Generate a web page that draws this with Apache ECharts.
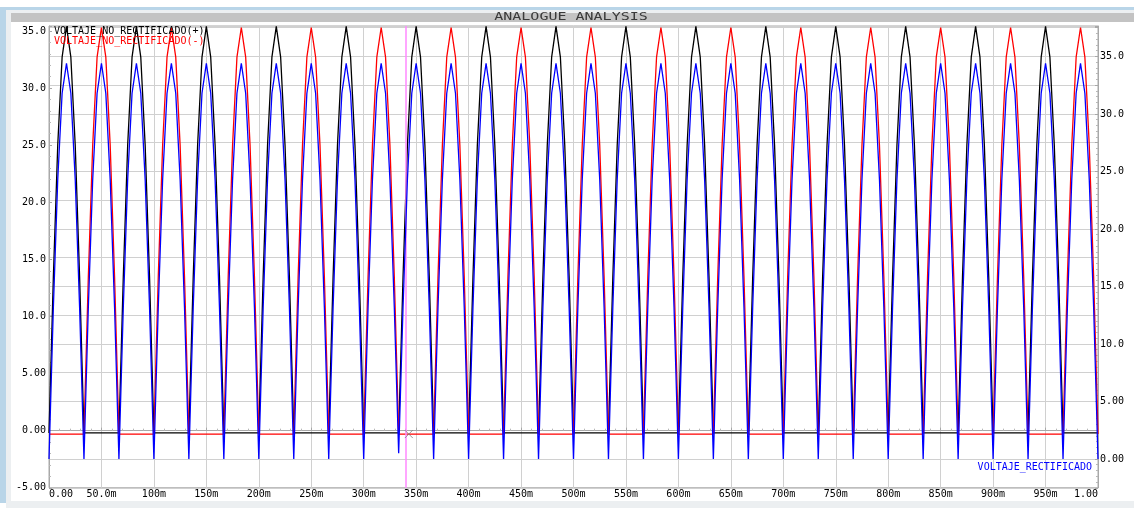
<!DOCTYPE html>
<html>
<head>
<meta charset="utf-8">
<title>ANALOGUE ANALYSIS</title>
<script src="https://cdn.jsdelivr.net/npm/echarts@6/dist/echarts.min.js"></script>
<style>
  html, body { margin: 0; padding: 0; background: #fff; }
  #chart { width: 1134px; height: 508px; }
</style>
</head>
<body>
<div id="chart"></div>
<script>
// simulator sample step (s); sample i is at t = i * SAMPLE_STEP
const SAMPLE_STEP = 1 / 240;

// VOLTAJE_NO_RECTIFICADO(+), left axis (V), one 66.7 ms period per row
const blackVolts = [
  -0.2, 13.5, 25.0, 32.7, 35.4, 32.7, 25.0, 13.5, -0.2, -0.2, -0.2, -0.2, -0.2, -0.2, -0.2, -0.2,
  -0.2, 13.5, 25.0, 32.7, 35.4, 32.7, 25.0, 13.5, -0.2, -0.2, -0.2, -0.2, -0.2, -0.2, -0.2, -0.2,
  -0.2, 13.5, 25.0, 32.7, 35.4, 32.7, 25.0, 13.5, -0.2, -0.2, -0.2, -0.2, -0.2, -0.2, -0.2, -0.2,
  -0.2, 13.5, 25.0, 32.7, 35.4, 32.7, 25.0, 13.5, -0.2, -0.2, -0.2, -0.2, -0.2, -0.2, -0.2, -0.2,
  -0.2, 13.5, 25.0, 32.7, 35.4, 32.7, 25.0, 13.5, -0.2, -0.2, -0.2, -0.2, -0.2, -0.2, -0.2, -0.2,
  -0.2, 13.5, 25.0, 32.7, 35.4, 32.7, 25.0, 13.5, -0.2, -0.2, -0.2, -0.2, -0.2, -0.2, -0.2, -0.2,
  -0.2, 13.5, 25.0, 32.7, 35.4, 32.7, 25.0, 13.5, -0.2, -0.2, -0.2, -0.2, -0.2, -0.2, -0.2, -0.2,
  -0.2, 13.5, 25.0, 32.7, 35.4, 32.7, 25.0, 13.5, -0.2, -0.2, -0.2, -0.2, -0.2, -0.2, -0.2, -0.2,
  -0.2, 13.5, 25.0, 32.7, 35.4, 32.7, 25.0, 13.5, -0.2, -0.2, -0.2, -0.2, -0.2, -0.2, -0.2, -0.2,
  -0.2, 13.5, 25.0, 32.7, 35.4, 32.7, 25.0, 13.5, -0.2, -0.2, -0.2, -0.2, -0.2, -0.2, -0.2, -0.2,
  -0.2, 13.5, 25.0, 32.7, 35.4, 32.7, 25.0, 13.5, -0.2, -0.2, -0.2, -0.2, -0.2, -0.2, -0.2, -0.2,
  -0.2, 13.5, 25.0, 32.7, 35.4, 32.7, 25.0, 13.5, -0.2, -0.2, -0.2, -0.2, -0.2, -0.2, -0.2, -0.2,
  -0.2, 13.5, 25.0, 32.7, 35.4, 32.7, 25.0, 13.5, -0.2, -0.2, -0.2, -0.2, -0.2, -0.2, -0.2, -0.2,
  -0.2, 13.5, 25.0, 32.7, 35.4, 32.7, 25.0, 13.5, -0.2, -0.2, -0.2, -0.2, -0.2, -0.2, -0.2, -0.2,
  -0.2, 13.5, 25.0, 32.7, 35.4, 32.7, 25.0, 13.5, -0.2, -0.2, -0.2, -0.2, -0.2, -0.2, -0.2, -0.2,
  -0.2
];

// VOLTAJE_NO_RECTIFICADO(-), left axis (V)
const redVolts = [
  -0.3, -0.3, -0.3, -0.3, -0.3, -0.3, -0.3, -0.3, -0.3, 13.5, 25.0, 32.7, 35.3, 32.7, 25.0, 13.5,
  -0.3, -0.3, -0.3, -0.3, -0.3, -0.3, -0.3, -0.3, -0.3, 13.5, 25.0, 32.7, 35.3, 32.7, 25.0, 13.5,
  -0.3, -0.3, -0.3, -0.3, -0.3, -0.3, -0.3, -0.3, -0.3, 13.5, 25.0, 32.7, 35.3, 32.7, 25.0, 13.5,
  -0.3, -0.3, -0.3, -0.3, -0.3, -0.3, -0.3, -0.3, -0.3, 13.5, 25.0, 32.7, 35.3, 32.7, 25.0, 13.5,
  -0.3, -0.3, -0.3, -0.3, -0.3, -0.3, -0.3, -0.3, -0.3, 13.5, 25.0, 32.7, 35.3, 32.7, 25.0, 13.5,
  -0.3, -0.3, -0.3, -0.3, -0.3, -0.3, -0.3, -0.3, -0.3, 13.5, 25.0, 32.7, 35.3, 32.7, 25.0, 13.5,
  -0.3, -0.3, -0.3, -0.3, -0.3, -0.3, -0.3, -0.3, -0.3, 13.5, 25.0, 32.7, 35.3, 32.7, 25.0, 13.5,
  -0.3, -0.3, -0.3, -0.3, -0.3, -0.3, -0.3, -0.3, -0.3, 13.5, 25.0, 32.7, 35.3, 32.7, 25.0, 13.5,
  -0.3, -0.3, -0.3, -0.3, -0.3, -0.3, -0.3, -0.3, -0.3, 13.5, 25.0, 32.7, 35.3, 32.7, 25.0, 13.5,
  -0.3, -0.3, -0.3, -0.3, -0.3, -0.3, -0.3, -0.3, -0.3, 13.5, 25.0, 32.7, 35.3, 32.7, 25.0, 13.5,
  -0.3, -0.3, -0.3, -0.3, -0.3, -0.3, -0.3, -0.3, -0.3, 13.5, 25.0, 32.7, 35.3, 32.7, 25.0, 13.5,
  -0.3, -0.3, -0.3, -0.3, -0.3, -0.3, -0.3, -0.3, -0.3, 13.5, 25.0, 32.7, 35.3, 32.7, 25.0, 13.5,
  -0.3, -0.3, -0.3, -0.3, -0.3, -0.3, -0.3, -0.3, -0.3, 13.5, 25.0, 32.7, 35.3, 32.7, 25.0, 13.5,
  -0.3, -0.3, -0.3, -0.3, -0.3, -0.3, -0.3, -0.3, -0.3, 13.5, 25.0, 32.7, 35.3, 32.7, 25.0, 13.5,
  -0.3, -0.3, -0.3, -0.3, -0.3, -0.3, -0.3, -0.3, -0.3, 13.5, 25.0, 32.7, 35.3, 32.7, 25.0, 13.5,
  -0.3
];

// VOLTAJE_RECTIFICADO, right axis (V)
const blueVolts = [
  0.0, 13.2, 24.3, 31.8, 34.4, 31.8, 24.3, 13.2, 0.0, 13.2, 24.3, 31.8, 34.4, 31.8, 24.3, 13.2,
  0.0, 13.2, 24.3, 31.8, 34.4, 31.8, 24.3, 13.2, 0.0, 13.2, 24.3, 31.8, 34.4, 31.8, 24.3, 13.2,
  0.0, 13.2, 24.3, 31.8, 34.4, 31.8, 24.3, 13.2, 0.0, 13.2, 24.3, 31.8, 34.4, 31.8, 24.3, 13.2,
  0.0, 13.2, 24.3, 31.8, 34.4, 31.8, 24.3, 13.2, 0.0, 13.2, 24.3, 31.8, 34.4, 31.8, 24.3, 13.2,
  0.0, 13.2, 24.3, 31.8, 34.4, 31.8, 24.3, 13.2, 0.0, 13.2, 24.3, 31.8, 34.4, 31.8, 24.3, 13.2,
  0.5, 13.2, 24.3, 31.8, 34.4, 31.8, 24.3, 13.2, 0.0, 13.2, 24.3, 31.8, 34.4, 31.8, 24.3, 13.2,
  0.0, 13.2, 24.3, 31.8, 34.4, 31.8, 24.3, 13.2, 0.0, 13.2, 24.3, 31.8, 34.4, 31.8, 24.3, 13.2,
  0.0, 13.2, 24.3, 31.8, 34.4, 31.8, 24.3, 13.2, 0.0, 13.2, 24.3, 31.8, 34.4, 31.8, 24.3, 13.2,
  0.0, 13.2, 24.3, 31.8, 34.4, 31.8, 24.3, 13.2, 0.0, 13.2, 24.3, 31.8, 34.4, 31.8, 24.3, 13.2,
  0.0, 13.2, 24.3, 31.8, 34.4, 31.8, 24.3, 13.2, 0.0, 13.2, 24.3, 31.8, 34.4, 31.8, 24.3, 13.2,
  0.0, 13.2, 24.3, 31.8, 34.4, 31.8, 24.3, 13.2, 0.0, 13.2, 24.3, 31.8, 34.4, 31.8, 24.3, 13.2,
  0.0, 13.2, 24.3, 31.8, 34.4, 31.8, 24.3, 13.2, 0.0, 13.2, 24.3, 31.8, 34.4, 31.8, 24.3, 13.2,
  0.0, 13.2, 24.3, 31.8, 34.4, 31.8, 24.3, 13.2, 0.0, 13.2, 24.3, 31.8, 34.4, 31.8, 24.3, 13.2,
  0.0, 13.2, 24.3, 31.8, 34.4, 31.8, 24.3, 13.2, 0.0, 13.2, 24.3, 31.8, 34.4, 31.8, 24.3, 13.2,
  0.0, 13.2, 24.3, 31.8, 34.4, 31.8, 24.3, 13.2, 0.0, 13.2, 24.3, 31.8, 34.4, 31.8, 24.3, 13.2,
  0.0
];

// cursor (s) and the marked point on the left axis
const cursorTime = 0.343;
const cursorPoint = [0.343, -0.3];

const traceNames = ['VOLTAJE_NO_RECTIFICADO(+)', 'VOLTAJE_NO_RECTIFICADO(-)', 'VOLTAJE_RECTIFICADO'];
const traceColors = ['#000000', '#ff0000', '#0000ff'];

const MONO = '"DejaVu Sans Mono", "Liberation Mono", monospace';

function toPairs(values) {
  return values.map((v, i) => [i * SAMPLE_STEP, v]);
}

function voltLabel(v) {
  if (Math.abs(v % 5) > 1e-6) return '';
  return Math.abs(v) >= 10 ? v.toFixed(1) : v.toFixed(2);
}

function timeLabel(v) {
  const ms = Math.round(v * 1000);
  if (ms === 0) return '0.00';
  if (ms === 1000) return '1.00';
  if (ms < 100) return ms.toFixed(1) + 'm';
  return ms + 'm';
}

const chart = echarts.init(document.getElementById('chart'));

const option = {
  animation: false,
  backgroundColor: '#ffffff',
  grid: {
    left: 49, right: 36, top: 26, bottom: 20.25,
    show: true, borderColor: '#a8a8a8', borderWidth: 1, backgroundColor: 'transparent'
  },
  xAxis: {
    type: 'value', min: 0, max: 1, interval: 0.05,
    axisLine: { show: true, lineStyle: { color: '#a8a8a8' } },
    axisTick: { show: true, inside: true, length: 3, lineStyle: { color: '#a8a8a8' } },
    minorTick: { show: true, splitNumber: 5, length: 2, lineStyle: { color: '#b8b8b8' } },
    splitLine: { show: true, lineStyle: { color: '#d0d0d0', width: 1 } },
    axisLabel: {
      formatter: timeLabel, color: '#000', fontFamily: MONO, fontSize: 10, margin: 2,
      alignMinLabel: 'left', alignMaxLabel: 'right', hideOverlap: false
    }
  },
  yAxis: [
    {
      type: 'value', position: 'left', min: -5, max: 35.43, interval: 5,
      axisLine: { show: true, lineStyle: { color: '#a8a8a8' } },
      axisTick: { show: true, inside: true, length: 3, lineStyle: { color: '#a8a8a8' } },
      minorTick: { show: true, splitNumber: 5, length: 2, lineStyle: { color: '#b8b8b8' } },
      splitLine: { show: false },
      axisLabel: { formatter: voltLabel, color: '#000', fontFamily: MONO, fontSize: 10, margin: 3 }
    },
    {
      type: 'value', position: 'right', min: -2.5, max: 37.65, interval: 2.5,
      axisLine: { show: true, lineStyle: { color: '#a8a8a8' } },
      axisTick: { show: true, inside: true, length: 3, lineStyle: { color: '#a8a8a8' } },
      minorTick: { show: true, splitNumber: 5, length: 2, lineStyle: { color: '#b8b8b8' } },
      splitLine: { show: true, lineStyle: { color: '#d0d0d0', width: 1 } },
      axisLabel: { formatter: voltLabel, color: '#000', fontFamily: MONO, fontSize: 10, margin: 2 }
    }
  ],
  series: [
    {
      name: traceNames[0], type: 'line', yAxisIndex: 0, showSymbol: false, z: 3,
      lineStyle: { color: traceColors[0], width: 1.3 },
      data: toPairs(blackVolts),
      markLine: {
        silent: true, symbol: 'none', label: { show: false },
        lineStyle: { color: '#ff88ff', width: 1.5, type: 'solid' },
        data: [{ xAxis: cursorTime }]
      }
    },
    {
      name: traceNames[1], type: 'line', yAxisIndex: 0, showSymbol: false, z: 4,
      lineStyle: { color: traceColors[1], width: 1.3 },
      data: toPairs(redVolts)
    },
    {
      name: traceNames[2], type: 'line', yAxisIndex: 1, showSymbol: false, z: 5,
      lineStyle: { color: traceColors[2], width: 1.3 },
      data: toPairs(blueVolts)
    },
    {
      type: 'scatter', yAxisIndex: 0, z: 6, silent: true,
      symbol: 'path://M0,0L10,10M10,0L0,10', symbolSize: 8,
      itemStyle: { color: 'none', borderColor: '#808080', borderWidth: 1 },
      data: [cursorPoint]
    }
  ],
  graphic: [
    // window frame
    { type: 'rect', shape: { x: 0, y: 7, width: 1134, height: 3 }, style: { fill: '#b9d5e8' }, silent: true },
    { type: 'rect', shape: { x: 0, y: 7, width: 6, height: 496 }, style: { fill: '#b9d5e8' }, silent: true },
    { type: 'rect', shape: { x: 6, y: 10, width: 1128, height: 3 }, style: { fill: '#eceff1' }, silent: true },
    { type: 'rect', shape: { x: 6, y: 10, width: 5, height: 498 }, style: { fill: '#eceff1' }, silent: true },
    { type: 'rect', shape: { x: 6, y: 501, width: 1128, height: 7 }, style: { fill: '#eceff1' }, silent: true },
    { type: 'rect', shape: { x: 11, y: 13, width: 1123, height: 9 }, style: { fill: '#c3c3c3' }, silent: true },
    {
      type: 'text', x: 571, y: 17.5, scaleX: 1.5, silent: true,
      style: { text: 'ANALOGUE ANALYSIS', font: '10px ' + MONO, fill: '#3a3a3a', textAlign: 'center', textVerticalAlign: 'middle' }
    },
    // trace names
    {
      type: 'text', x: 54, y: 31.5, silent: true, z: 10,
      style: { text: traceNames[0], font: '10px ' + MONO, fill: traceColors[0], textVerticalAlign: 'middle' }
    },
    {
      type: 'text', x: 54, y: 41.5, silent: true, z: 10,
      style: { text: traceNames[1], font: '10px ' + MONO, fill: traceColors[1], textVerticalAlign: 'middle' }
    },
    {
      type: 'text', x: 1092, y: 467, silent: true, z: 10,
      style: { text: traceNames[2], font: '10px ' + MONO, fill: traceColors[2], textAlign: 'right', textVerticalAlign: 'middle' }
    }
  ]
};

chart.setOption(option);
</script>
</body>
</html>
